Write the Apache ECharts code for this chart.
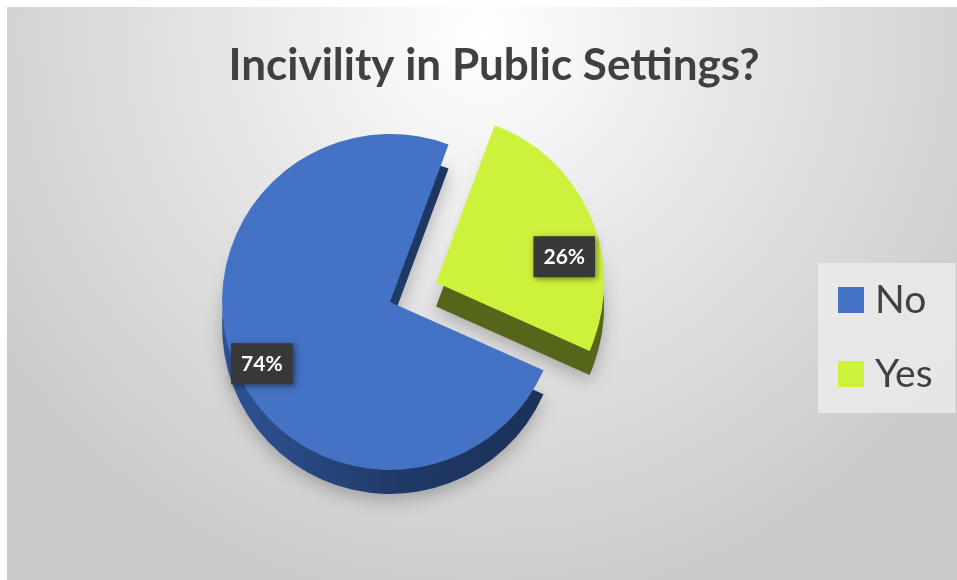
<!DOCTYPE html>
<html>
<head>
<meta charset="utf-8">
<script src="https://cdn.jsdelivr.net/npm/echarts@6/dist/echarts.min.js"></script>
<style>
html,body{margin:0;padding:0;background:#fff;}
#chart{width:957px;height:580px;}
</style>
</head>
<body>
<div id="chart"></div>
<script>
const chartTitle = 'Incivility in Public Settings?';
const categories = ['No', 'Yes'];
const values = [74, 26];
const selectedCats = ['Yes'];

const topColors = ['#4472C4', '#CDF23C'];
const sideColors = [
  {type:'linear', x:0, y:0, x2:1, y2:0, colorStops:[{offset:0, color:'#2E5395'}, {offset:0.6, color:'#1F3864'}, {offset:1, color:'#1B3159'}]},
  '#55661A'
];
// vertical nudge of each label (the reference pie is tilted)
const labelShiftY = [8, 28];

const CX = 390, CY = 302, R = 168, DEPTH = 24, OFFSET = 50, START = -24;

function items(colors) {
  return categories.map((c, i) => ({
    name: c,
    value: values[i],
    selected: selectedCats.indexOf(c) >= 0,
    itemStyle: {color: colors[i]}
  }));
}

const labelSeries = categories.map((cat, k) => ({
  type: 'pie', name: 'labels-' + cat, z: 4, silent: true,
  center: [CX, CY + labelShiftY[k]], radius: [0, 272],
  startAngle: START, clockwise: true,
  selectedMode: 'multiple', selectedOffset: OFFSET,
  labelLine: {show: false},
  emphasis: {disabled: true},
  itemStyle: {color: 'rgba(0,0,0,0)'},
  label: {
    position: 'inside',
    formatter: p => p.value + '%',
    fontFamily: 'Lato', fontWeight: 'bold', fontSize: 21, color: '#ffffff',
    backgroundColor: '#383838', padding: [11, 10, 9, 10],
    shadowBlur: 6, shadowColor: 'rgba(0,0,0,0.45)', shadowOffsetX: 2, shadowOffsetY: 2
  },
  data: categories.map((c, i) => ({
    name: c, value: values[i],
    selected: selectedCats.indexOf(c) >= 0,
    label: {show: i === k}
  }))
}));

const chart = echarts.init(document.getElementById('chart'), null, {renderer:'canvas'});
chart.setOption({
  animation: false,
  backgroundColor: '#ffffff',
  graphic: [{
    type: 'rect', z: -10, silent: true,
    shape: {x: 7, y: 7, width: 950, height: 573},
    style: {fill: {type:'radial', x:0.5, y:0.05, r:1.0, colorStops:[{offset:0, color:'#ffffff'}, {offset:0.45, color:'#e6e6e6'}, {offset:1, color:'#cbcbcb'}]}}
  }],
  title: {
    text: chartTitle,
    left: 489, top: 39, textAlign: 'center',
    textStyle: {fontFamily: 'Lato', fontWeight: 'bold', fontSize: 44, color: '#404040'}
  },
  legend: {
    orient: 'vertical',
    left: 818, top: 263,
    backgroundColor: 'rgba(235,235,235,0.85)',
    padding: [17, 23, 19, 20],
    itemWidth: 26, itemHeight: 26, itemGap: 34,
    icon: 'rect',
    selectedMode: false,
    data: categories.map((c, i) => ({name: c, itemStyle: {color: topColors[i]}})),
    textStyle: {fontFamily: 'Lato', fontSize: 39, lineHeight: 40, color: '#404040', padding: [0, 0, 0, 6]}
  },
  series: [
    {
      type: 'pie', name: 'top', z: 3,
      center: [CX, CY], radius: [0, R],
      startAngle: START, clockwise: true,
      selectedMode: 'multiple', selectedOffset: OFFSET,
      label: {show: false}, labelLine: {show: false},
      emphasis: {disabled: true},
      data: items(topColors)
    },
    {
      type: 'pie', name: 'side', z: 2,
      center: [CX, CY + DEPTH], radius: [0, R],
      startAngle: START, clockwise: true,
      selectedMode: 'multiple', selectedOffset: OFFSET,
      label: {show: false}, labelLine: {show: false},
      emphasis: {disabled: true},
      itemStyle: {shadowBlur: 18, shadowColor: 'rgba(0,0,0,0.25)', shadowOffsetY: 6},
      data: items(sideColors)
    }
  ].concat(labelSeries)
});
</script>
</body>
</html>
